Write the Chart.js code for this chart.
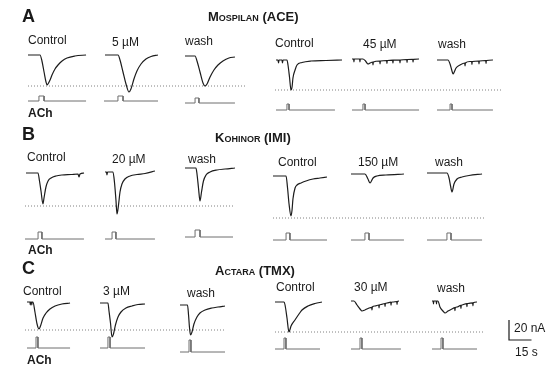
<!DOCTYPE html>
<html>
<head>
<meta charset="utf-8">
<script src="https://cdn.jsdelivr.net/npm/chart.js@4.4.1/dist/chart.umd.min.js"></script>
<style>
html, body { margin: 0; padding: 0; background: #fff; }
#wrap { position: relative; width: 550px; height: 370px; font-family: "Liberation Sans", Arial, sans-serif; color: #1a1a1a; }
#wrap canvas { position: absolute; left: 0; top: 0; }
.t { position: absolute; line-height: 1; transform: translateY(-50%); white-space: nowrap; font-size: 12px; }
.letter { font-weight: bold; font-size: 18px; }
.title { font-weight: bold; font-variant: small-caps; font-size: 13px; }
.ach { font-weight: bold; }
</style>
</head>
<body>
<div id="wrap"><canvas id="c" width="550" height="370"></canvas></div>
<script>
const PX_PER_S = 1.5;   // 15 s bar
const PX_PER_NA = 1;    // 20 nA bar

const rowLetters = ['A', 'B', 'C'];
const drugTitles = ['Mospilan (ACE)', 'Kohinor (IMI)', 'Actara (TMX)'];
const condLabels = [
  ['Control', '5 µM', 'wash', 'Control', '45 µM', 'wash'],
  ['Control', '20 µM', 'wash', 'Control', '150 µM', 'wash'],
  ['Control', '3 µM', 'wash', 'Control', '30 µM', 'wash']
];

// ACh-evoked currents: time (s) and current (nA)
// Mospilan (ACE)
const aceCtl1 = { t: [0, 8, 9.3, 10.7, 12, 12.7, 13.3, 14.7, 16, 18, 20, 22.7, 26, 31.3, 38.7],
                  i: [0, 0, -6, -17, -27, -30, -29, -25, -20, -14, -10, -6, -3, -1, 0] };
const ace5 = { t: [0, 8.7, 10, 12, 14, 16, 17.3, 19.3, 21.3, 24, 27.3, 30.7, 35.3],
               i: [0, 0, -5, -17, -29, -37, -34, -24, -16, -9, -4, -1.5, 0] };
const aceWash1 = { t: [0, 6.7, 8, 10, 12, 13.3, 14.7, 16.7, 19.3, 22, 25.3, 29.3, 33.3],
                   i: [0, 0, -5, -16, -27, -30, -28, -21, -14, -9, -5, -2, -1] };
const aceCtl2 = { t: [0, 1.3, 1.7, 2, 4, 4.3, 4.7, 7.3, 8, 9, 10, 10.7, 11.3, 12.7, 14, 17.3, 23.3, 33.3, 44],
                  i: [0, 0, -3, 0, 0, -3, 0, 0, -5, -17, -30, -27, -18, -10, -5, -2.5, -1, -0.5, 0] };
const ace45 = { t: [0, 1.1, 1.3, 1.5, 5.1, 5.3, 5.5, 7.3, 9, 10.7, 12, 13.8, 14, 14.2, 18.5, 18.7, 18.9, 23.1, 23.3, 23.5, 27.1, 27.3, 27.5, 31.8, 32, 32.2, 36.5, 36.7, 36.9, 40.5, 40.7, 40.9, 44.7],
                i: [0, 0, -3, 0, 0, -3, 0, 0, -2, -5, -4, -3, -6, -3, -2, -5, -2, -1.5, -4.5, -1.5, -1.2, -4, -1.2, -1, -4, -1, -0.5, -3.5, -0.5, -0.3, -3, -0.3, 0] };
const aceWash2 = { t: [0, 7.3, 8.7, 10, 10.7, 11.5, 12.7, 15.3, 18.5, 18.7, 18.9, 22, 23.1, 23.3, 23.5, 27.8, 28, 28.2, 32.5, 32.7, 32.9, 37.3],
                   i: [0, 0, -4, -11, -14, -12, -8, -5, -3, -6, -3, -1.5, -1.5, -4.5, -1.5, -1, -4, -1, -0.5, -3.5, -0.5, 0] };

// Kohinor (IMI)
const imiCtl1 = { t: [0, 8, 9, 10, 11.3, 12, 13.3, 14.7, 16.7, 20, 24, 30, 34.7, 35.3, 36, 38.7],
                  i: [0, 0, -8, -18, -31, -25, -14, -8, -5, -3, -2, -1.5, -1, -4, -1, 0] };
const imi20 = { t: [0, 1, 1.3, 1.7, 5.3, 6.3, 7.3, 8, 9, 10, 11.3, 13.3, 16.7, 21.3, 26.7, 33.3],
                i: [0, 0, -3, 0, 0, -10, -28, -42, -33, -20, -12, -7, -4, -2.5, -1.5, 1] };
const imiWash1 = { t: [0, 7.3, 8, 9, 10, 11, 12.3, 14, 16.7, 21.3, 26.7, 33.3],
                   i: [0, 0, -6, -20, -33, -24, -13, -7, -4, -2, -1, 0] };
const imiCtl2 = { t: [0, 8.7, 9.7, 10.7, 12, 12.7, 13.3, 14.7, 16, 18.7, 22, 26.7, 31.3, 36],
                  i: [0, 0, -12, -28, -40, -34, -23, -12, -9, -7, -5, -3, -2, -1] };
const imi150 = { t: [0, 9.3, 11.3, 12.7, 14.7, 17.3, 23.3, 35.3],
                 i: [0, 0, -5, -9, -4, -2, -1, 0] };
const imiWash2 = { t: [0, 13.3, 14.7, 15.7, 16.7, 18, 20, 23.3, 28, 36.7],
                   i: [0, 0, -5, -13, -19, -11, -6, -4, -2.5, -1] };

// Actara (TMX)
const tmxCtl1 = { t: [0, 2, 2.2, 2.4, 3, 3.2, 3.4, 4, 5.3, 6.7, 8, 9, 10.7, 12.7, 15.3, 18.7, 23.3, 28.7],
                  i: [0, 0, -3, 0, 0, -3, 0, 0, -10, -22, -27, -24, -16, -11, -7, -4, -2, -1] };
const tmx3 = { t: [0, 5.3, 6, 7, 8, 9, 10.3, 12, 14, 17.3, 21.3, 25.3, 30],
               i: [0, 0, -8, -20, -34, -31, -22, -14, -9, -5, -3, -1.5, -1] };
const tmxWash1 = { t: [0, 5, 5.7, 6.3, 7, 8, 9.3, 11.3, 13.3, 16.7, 21.3, 25.3, 30],
                   i: [0, 0, -10, -22, -30, -27, -19, -12, -8, -5, -3, -2, -1] };
const tmxCtl2 = { t: [0, 6, 6.7, 8, 9.3, 10.7, 13.3, 16, 18, 22, 26.7, 31.3],
                  i: [0, 0, -3, -16, -30, -24, -18, -12, -8, -4, -1.5, 0] };
const tmx30 = { t: [0, 2, 4, 6, 7.3, 9.3, 12, 13.8, 14, 14.2, 16, 18.5, 18.7, 18.9, 20, 22.5, 22.7, 22.9, 24, 26.5, 26.7, 26.9, 28, 30.5, 30.7, 30.9, 32],
                i: [0, 0, -4, -8, -10, -9, -7, -6.3, -9, -6, -5, -4, -7, -4, -3.5, -2.5, -5.5, -2.5, -2, -1.2, -4.2, -1.2, -1, -0.5, -3.5, -0.5, 0] };
const tmxWash2 = { t: [0, 0.8, 1, 1.2, 2.8, 3, 3.2, 4, 5.3, 7.3, 8.7, 10.7, 13.3, 15.1, 15.3, 15.5, 16.7, 19.1, 19.3, 19.5, 20, 23.1, 23.3, 23.5, 24, 27.1, 27.3, 27.5, 30],
                   i: [0, 0, -3, 0, 0, -3, 0, 0, -6, -10, -12, -10, -8, -6.6, -9.6, -6.6, -6, -4.4, -7.4, -4.4, -4, -2.6, -5.6, -2.6, -2.5, -1.8, -4.8, -1.8, -1] };

// ACh application: pulse on / off and sweep length (s)
const acePulseOn = [7.3, 9.3, 6.7, 7.3, 7.3, 8.7];
const acePulseOff = [10.7, 12.7, 9.3, 8.7, 8.7, 10];
const aceSweep = [38.7, 36, 33.3, 39.3, 44.7, 37.3];
const imiPulseOn = [8.7, 4.7, 6.7, 8.7, 9.3, 13.3];
const imiPulseOff = [11.3, 7.3, 10, 11.3, 12, 16];
const imiSweep = [39.3, 33.3, 32, 36, 35.3, 36.7];
const tmxPulseOn = [6, 5.3, 6, 6, 6, 6];
const tmxPulseOff = [7.3, 6.7, 7.3, 7.3, 7.3, 7.3];
const tmxSweep = [28.7, 30, 30, 30, 33.3, 30];

const scaleBarNA = 20;
const scaleBarS = 15;

// layout (pixels)
const rows = [
  { traces: [aceCtl1, ace5, aceWash1, aceCtl2, ace45, aceWash2], on: acePulseOn, off: acePulseOff, sweep: aceSweep,
    x: [28, 105, 185, 276, 352, 437], y: [55, 55, 56, 60, 59, 60],
    px: [28, 104, 185, 276, 352, 437], py: [101, 101, 103, 110, 110, 110], ph: [5, 5, 5, 6, 6, 6],
    dots: [[28, 245, 86], [275, 502, 90]],
    letterY: 16, titleX: 208, titleY: 16, labelX: [28, 112, 185, 275, 363, 438], labelY: [40, 42, 41, 43, 44, 44], achX: 28, achY: 113 },
  { traces: [imiCtl1, imi20, imiWash1, imiCtl2, imi150, imiWash2], on: imiPulseOn, off: imiPulseOff, sweep: imiSweep,
    x: [26, 105, 185, 273, 351, 427], y: [173, 172, 168, 176, 174, 173],
    px: [25, 105, 185, 273, 351, 427], py: [239, 239, 237, 240, 240, 240], ph: [7, 7, 7, 7, 7, 7],
    dots: [[25, 235, 206], [273, 485, 218]],
    letterY: 134, titleX: 215, titleY: 137, labelX: [27, 112, 188, 278, 358, 435], labelY: [157, 159, 159, 162, 162, 162], achX: 28, achY: 250 },
  { traces: [tmxCtl1, tmx3, tmxWash1, tmxCtl2, tmx30, tmxWash2], on: tmxPulseOn, off: tmxPulseOff, sweep: tmxSweep,
    x: [27, 100, 180, 275, 351, 432], y: [302, 303, 305, 302, 301, 301],
    px: [27, 100, 180, 275, 351, 432], py: [348, 348, 352, 349, 349, 349], ph: [11, 11, 12, 11, 11, 11],
    dots: [[25, 225, 330], [275, 483, 332]],
    letterY: 268, titleX: 215, titleY: 270, labelX: [23, 103, 187, 276, 354, 437], labelY: [291, 291, 293, 287, 287, 288], achX: 27, achY: 360 }
];
const barCorner = { x: 509, y: 340 };

const datasets = [];
function line(pts, color, width, extra) {
  return Object.assign({ data: pts, borderColor: color, borderWidth: width, pointRadius: 0, fill: false }, extra || {});
}

rows.forEach(r => {
  r.traces.forEach((tr, k) => {
    const pts = tr.t.map((t, j) => ({ x: r.x[k] + t * PX_PER_S, y: r.y[k] - tr.i[j] * PX_PER_NA }));
    datasets.push(line(pts, '#1c1c1c', 1.2, { cubicInterpolationMode: 'monotone' }));

    const on = r.on[k], off = r.off[k], len = r.sweep[k];
    const steps = [[0, 0], [on, 0], [on, 1], [off, 1], [off, 0], [len, 0]];
    const pp = steps.map(([t, v]) => ({ x: r.px[k] + t * PX_PER_S, y: r.py[k] - v * r.ph[k] }));
    datasets.push(line(pp, '#6e6e6e', 1));
  });
  r.dots.forEach(([x1, x2, y]) => {
    datasets.push(line([{ x: x1, y: y }, { x: x2, y: y }], '#808080', 1, { borderDash: [1, 2] }));
  });
});

// scale bar
datasets.push(line([
  { x: barCorner.x, y: barCorner.y - scaleBarNA * PX_PER_NA },
  { x: barCorner.x, y: barCorner.y },
  { x: barCorner.x + scaleBarS * PX_PER_S, y: barCorner.y }
], '#1c1c1c', 1.2));

new Chart(document.getElementById('c'), {
  type: 'line',
  data: { datasets: datasets },
  options: {
    responsive: false,
    animation: false,
    devicePixelRatio: 1,
    layout: { padding: 0 },
    plugins: { legend: { display: false }, tooltip: { enabled: false } },
    scales: {
      x: { type: 'linear', min: 0, max: 550, display: false },
      y: { type: 'linear', min: 0, max: 370, reverse: true, display: false }
    }
  }
});

// text
const wrap = document.getElementById('wrap');
function addText(txt, x, y, cls) {
  const d = document.createElement('div');
  d.className = 't ' + (cls || '');
  d.textContent = txt;
  d.style.left = x + 'px';
  d.style.top = y + 'px';
  wrap.appendChild(d);
}
rows.forEach((r, n) => {
  addText(rowLetters[n], 22, r.letterY, 'letter');
  addText(drugTitles[n], r.titleX, r.titleY, 'title');
  condLabels[n].forEach((lab, k) => addText(lab, r.labelX[k], r.labelY[k]));
  addText('ACh', r.achX, r.achY, 'ach');
});
addText(scaleBarNA + ' nA', 514, 328);
addText(scaleBarS + ' s', 515, 352);
</script>
</body>
</html>
